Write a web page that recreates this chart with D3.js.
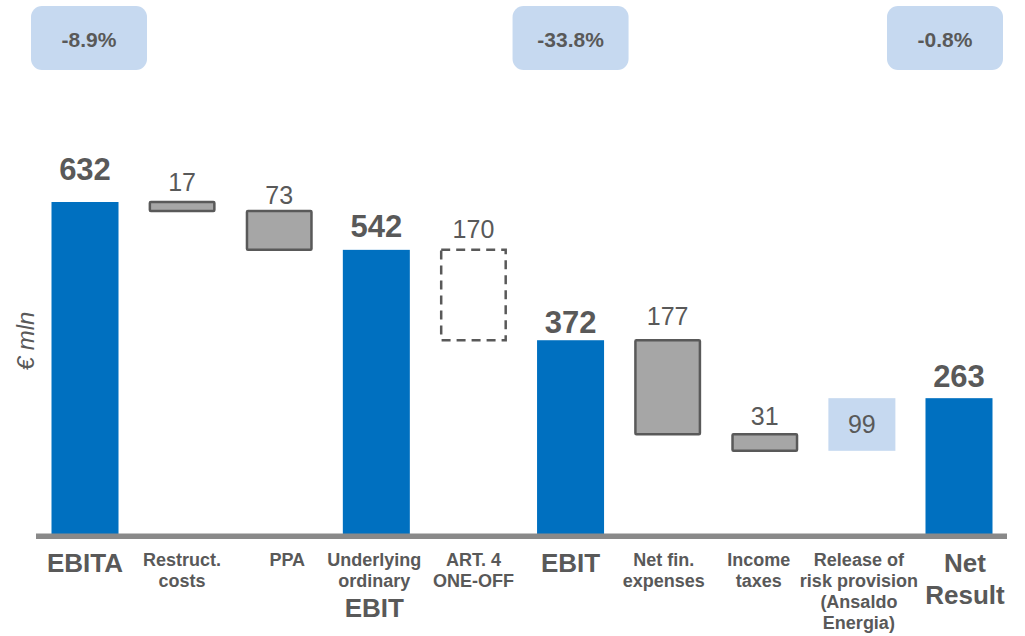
<!DOCTYPE html>
<html>
<head>
<meta charset="utf-8">
<script src="https://cdn.jsdelivr.net/npm/d3@7"></script>
<style>
  html, body { margin: 0; padding: 0; background: #ffffff; }
  svg { display: block; font-family: "Liberation Sans", Arial, Helvetica, sans-serif; }
</style>
</head>
<body>
<svg id="chart" width="1025" height="636"></svg>
<script>
// ---- data -------------------------------------------------------------
const categories = [
  "EBITA", "Restruct. costs", "PPA", "Underlying ordinary EBIT", "ART. 4 ONE-OFF",
  "EBIT", "Net fin. expenses", "Income taxes",
  "Release of risk provision (Ansaldo Energia)", "Net Result"
];
// signed amounts in € mln; totals are absolute levels
const values = [632, -17, -73, 542, -170, 372, -177, -31, 99, 263];
// total = subtotal bar, down = cost, oneoff = dashed cost, up = release
const kinds = ["total", "down", "down", "total", "oneoff", "total", "down", "down", "up", "total"];

// axis label lines per category: [text, emphasised]
const categoryLines = [
  [["EBITA", true]],
  [["Restruct.", false], ["costs", false]],
  [["PPA", false]],
  [["Underlying", false], ["ordinary", false], ["EBIT", true]],
  [["ART. 4", false], ["ONE-OFF", false]],
  [["EBIT", true]],
  [["Net fin.", false], ["expenses", false]],
  [["Income", false], ["taxes", false]],
  [["Release of", false], ["risk provision", false], ["(Ansaldo", false], ["Energia)", false]],
  [["Net", true], ["Result", true]]
];

// year-on-year change badges shown above selected subtotals
const changeCategories = ["EBITA", "EBIT", "Net Result"];
const changeLabels = ["-8.9%", "-33.8%", "-0.8%"];

const unitLabel = "€ mln";

// ---- layout -----------------------------------------------------------
const baseY = 538;
const topY = 202;
const textColor = "#595959";
const blue = "#0070c0";
const lightBlue = "#c6d9f0";
const grey = "#a6a6a6";
const greyStroke = "#595959";
const labelNudge = [0, 0, 8, -2, 0, 0, -4, -6, -3, 6];
const valueGap = [22.5, 11, 7, 13, 11.5, 7.5, 15, 9.3, 0, 11.5];
const badgeNudge = [4, 0, -14];

const svg = d3.select("#chart");

const x = d3.scaleBand()
  .domain(categories)
  .range([51.5, 992.5])
  .paddingInner(0.31)
  .paddingOuter(0);

const y = d3.scaleLinear()
  .domain([0, 632])
  .range([baseY, topY]);

// running levels for the waterfall
let level = 0;
const steps = categories.map((c, i) => {
  const v = values[i];
  let from, to;
  if (kinds[i] === "total") { from = 0; to = v; level = v; }
  else { from = level; to = level + v; level = to; }
  return { cat: c, value: v, kind: kinds[i], lo: Math.min(from, to), hi: Math.max(from, to) };
});

const bw = x.bandwidth();
const g = svg.append("g");

// bars
steps.forEach(d => {
  const x0 = x(d.cat);
  const yTop = y(d.hi), yBot = y(d.lo);
  if (d.kind === "total") {
    g.append("rect")
      .attr("x", x0).attr("y", yTop)
      .attr("width", bw).attr("height", yBot - yTop)
      .attr("fill", blue);
  } else if (d.kind === "down") {
    g.append("rect")
      .attr("x", x0 + 1.25).attr("y", yTop)
      .attr("width", bw - 2.5).attr("height", yBot - yTop)
      .attr("fill", grey)
      .attr("stroke", greyStroke).attr("stroke-width", 2.5)
      .attr("rx", 1);
  } else if (d.kind === "oneoff") {
    g.append("rect")
      .attr("x", x0 + 1.25).attr("y", yTop)
      .attr("width", bw - 2.5).attr("height", yBot - yTop)
      .attr("fill", "none")
      .attr("stroke", greyStroke).attr("stroke-width", 2.5)
      .attr("stroke-dasharray", "9,6");
  } else {
    g.append("rect")
      .attr("x", x0).attr("y", yTop)
      .attr("width", bw).attr("height", yBot - yTop)
      .attr("fill", lightBlue);
  }
});

// baseline
g.append("rect")
  .attr("x", 36).attr("y", 533.5)
  .attr("width", 1007 - 36).attr("height", 5.5)
  .attr("fill", "#898989");

// value labels
steps.forEach((d, i) => {
  const cx = x(d.cat) + bw / 2;
  const txt = g.append("text")
    .attr("x", cx)
    .attr("text-anchor", "middle")
    .attr("fill", textColor)
    .text(Math.abs(d.value));
  if (d.kind === "total") {
    txt.attr("y", y(d.hi) - valueGap[i]).attr("font-size", 31).attr("font-weight", "bold");
  } else if (d.kind === "up") {
    txt.attr("y", (y(d.hi) + y(d.lo)) / 2 + 9).attr("font-size", 25);
  } else {
    txt.attr("y", y(d.hi) - valueGap[i]).attr("font-size", 25);
  }
});

// category labels
categories.forEach((c, i) => {
  const cx = x(c) + bw / 2 + labelNudge[i];
  let top = 548;
  let prevBig = null;
  categoryLines[i].forEach(([t, big]) => {
    if (big && prevBig === false) top += 3;
    const baseline = top + (big ? 23.7 : 17.7);
    g.append("text")
      .attr("x", cx).attr("y", baseline)
      .attr("text-anchor", "middle")
      .attr("fill", textColor)
      .attr("font-weight", "bold")
      .attr("font-size", big ? 26 : 18)
      .text(t);
    top += big ? 32.6 : 21;
    prevBig = big;
  });
});

// change badges
changeCategories.forEach((c, i) => {
  const cx = x(c) + bw / 2 + badgeNudge[i];
  g.append("rect")
    .attr("x", cx - 58).attr("y", 6)
    .attr("width", 116).attr("height", 64)
    .attr("rx", 11)
    .attr("fill", lightBlue);
  g.append("text")
    .attr("x", cx).attr("y", 46.5)
    .attr("text-anchor", "middle")
    .attr("fill", textColor)
    .attr("font-weight", "bold")
    .attr("font-size", 21)
    .text(changeLabels[i]);
});

// unit label
g.append("text")
  .attr("transform", "translate(34,341) rotate(-90)")
  .attr("text-anchor", "middle")
  .attr("fill", textColor)
  .attr("font-style", "italic")
  .attr("font-size", 24)
  .text(unitLabel);
</script>
</body>
</html>
